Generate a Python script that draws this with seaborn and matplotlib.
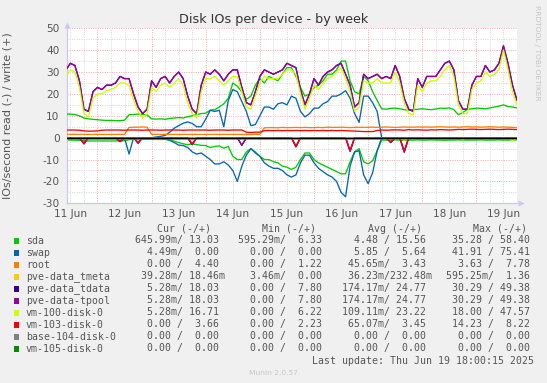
import numpy as np
import pandas as pd
import matplotlib
matplotlib.use("Agg")
import matplotlib.pyplot as plt
from matplotlib.patches import Rectangle
import seaborn as sns

sns.set_theme(style="white")
plt.rcParams['font.family'] = ['DejaVu Sans']

# ---------------- data (hours since 11 Jun 00:00, 2-hour samples) ----------------
hours = list(range(10, 211, 2))

tpool_w = [31, 34, 33, 26, 13, 12, 21,
           23, 22, 24, 24, 25, 28, 27, 27, 20, 14, 11, 13,
           26, 23, 27, 28, 25, 28, 30, 27, 19, 13, 11, 24,
           30, 29, 31, 29, 26, 29, 31, 31, 23, 16, 15, 21,
           28, 31, 30, 29, 30, 31, 34, 33, 32, 22, 15, 20,
           27, 24, 28, 30, 31, 33, 34, 29, 24, 14, 16, 29,
           27, 28, 29, 27, 28, 27, 33, 28, 18, 13, 12, 27,
           23, 28, 28, 28, 31, 34, 35, 31, 17, 13, 13, 24,
           28, 28, 33, 30, 31, 34, 42, 34, 24, 17]
tdata_w = tpool_w
vm100_w = [28, 31, 30, 23, 11, 9.5, 18,
           20, 20, 21.5, 22, 23, 25, 25, 24, 17, 12, 9, 11,
           23, 21, 24, 25, 23, 25, 27, 24, 16, 11, 9, 21,
           27, 27, 28, 26, 24, 26, 28, 28, 21, 14, 13, 19,
           25, 28, 27, 27, 27, 29, 31, 31, 29, 20, 13, 18,
           24, 22, 25, 27, 28, 30, 32, 27, 21, 12, 14, 26,
           25, 25, 27, 25, 25, 25, 30, 25, 16, 11, 10.5, 24,
           21, 25, 26, 26, 28, 31, 33, 28, 15, 11, 11, 22,
           25, 26, 30, 28, 29, 31, 40, 31, 21, 15]
sda_w = [10.8, 10.8, 10.6, 10.0, 9.0, 8.6, 8.4,
         8.2, 8.0, 7.9, 7.9, 7.8, 7.8, 8.0, 10.5, 10.6, 10.8, 10.6, 10.4,
         8.6, 8.5, 8.6, 8.4, 8.8, 9.0, 9.2, 9.0, 9.6, 10.0, 10.6, 11.0,
         11.2, 12.6, 12.8, 14.0, 15.5, 18.0, 25.0, 23.5, 21.0, 17.5, 19.0, 24.0,
         27, 25, 28, 27, 26, 29, 32, 32, 28, 23, 19, 20,
         23, 24, 26, 29, 29, 31, 35, 35, 26, 21, 20, 28,
         26, 21, 17, 13.2, 13.0, 13.4, 13.5, 13.2, 12.8, 12.6, 12.8, 13.0,
         13.2, 13.0, 12.8, 13.1, 13.5, 13.4, 13.6, 12.8, 10.5, 11.5, 13.0, 13.2,
         13.5, 13.4, 13.2, 13.6, 14.0, 14.4, 15.0, 14.2, 14.0, 13.6]
sda_r = [-1.1, -1.1, -1.1, -1.2, -1.3, -1.5, -1.5,
         -1.5, -1.5, -1.5, -1.5, -1.5, -1.5, -1.4, -0.9, -0.8, -0.8, -0.8, -0.8,
         -0.8, -0.8, -0.8, -0.8, -1.0, -1.6, -2.2, -2.8, -3.2, -2.8, -3.2, -3.5,
         -3.6, -4.5, -4.0, -3.8, -4.8, -4.0, -8.5, -10.0, -10.0, -6.5, -5.0, -6.5,
         -8.5, -10.0, -10.0, -11.0, -11.5, -13.0, -13.5, -14.5, -13.5, -10.0, -7.0, -7.0,
         -10.0, -11.5, -12.5, -13.5, -14.5, -15.5, -16.5, -16.5, -11.0, -6.5, -5.0, -11.0,
         -12.0, -10.5, -6.0, -1.1, -1.1, -1.1, -1.0, -1.1, -1.2, -1.1, -1.1, -1.0,
         -1.1, -1.1, -1.0, -1.1, -1.1, -1.2, -1.1, -1.1, -1.0, -1.1, -1.1, -1.1,
         -1.1, -1.0, -1.1, -1.1, -1.1, -1.0, -1.1, -1.1, -1.1, -1.0]
swap_w = [0, 0, 0, 0, 0, 0, 0,
          0, 0, 0, 0, 0, 0, 0, 0, 0, 0, 0, 0,
          0, 0.3, 0.6, 1.0, 2.5, 4.3, 5.5, 6.6, 7.2, 6.5, 5.0, 5.0,
          8.5, 12.5, 12.0, 12.5, 5.0, 17.0, 22.0, 21.0, 16.5, 12.0, 5.5, 6.0,
          10, 14, 14, 13, 15.5, 16, 15, 19, 18, 12, 9.5, 11,
          13.5, 13.5, 15.5, 16.5, 19, 19, 20, 21.5, 18, 11, 7, 19,
          19, 16, 12, 0, 0, 0, 0, 0, 0, 0, 0, 0,
          0, 0, 0, 0, 0, 0, 0, 0, 0, 0, 0, 0,
          0, 0, 0, 0, 0, 0, 0, 0, 0, 0]
swap_r = [0, 0, 0, 0, 0, 0, 0,
          0, 0, 0, 0, 0, 0, 0, -7.5, 0, 0, 0, 0,
          0, 0, -0.3, -0.6, -1.2, -2.2, -3.4, -3.6, -4.5, -6.5, -7.5, -7.0,
          -8.5, -10, -12, -12, -11, -12.5, -15, -20, -13, -8, -5, -7,
          -8.5, -11.5, -13, -14, -14, -15, -17, -18, -17, -11.5, -8, -8,
          -11.5, -14, -15.5, -17, -18, -20, -25, -27, -13, -6.5, -6, -17,
          -21, -16, -6, 0, 0, 0, 0, 0, 0, 0, 0, 0,
          0, 0, 0, 0, 0, 0, 0, 0, 0, 0, 0, 0,
          0, 0, 0, 0, 0, 0, 0, 0, 0, 0]
root_w = [1.5, 1.5, 1.5, 1.5, 1.5, 1.5, 1.5,
          1.5, 1.5, 1.5, 1.5, 1.5, 1.5, 1.5, 4.7, 4.8, 4.8, 4.9, 4.8,
          1.5, 1.5, 1.5, 1.5, 1.5, 1.5, 1.5, 1.5, 1.5, 1.5, 1.5, 1.5,
          1.5, 1.5, 1.5, 1.5, 1.5, 1.5, 1.5, 1.5, 1.5, 1.5, 1.5, 1.5,
          1.5, 4.5, 4.6, 4.6, 4.5, 4.7, 4.6, 4.6, 4.7, 4.6, 4.7, 4.6,
          4.6, 4.7, 4.6, 4.8, 4.7, 4.7, 4.8, 4.7, 4.6, 4.7, 4.8, 4.7,
          4.7, 4.8, 4.7, 4.8, 4.9, 4.8, 4.7, 4.8, 4.9, 4.8, 4.8, 4.9,
          4.8, 4.9, 4.8, 4.9, 5.0, 4.9, 4.8, 4.9, 4.8, 4.9, 5.0, 4.9,
          4.9, 4.8, 4.9, 5.0, 4.9, 4.8, 4.9, 4.8, 4.7, 4.6]
vm103_w = [3.5, 3.5, 3.5, 3.4, 3.1, 3.0, 3.0,
           3.1, 3.4, 3.5, 3.5, 3.5, 3.5, 3.4, 3.5, 3.5, 3.5, 3.4, 3.5,
           3.5, 3.5, 3.4, 3.5, 3.5, 3.5, 3.5, 3.4, 3.5, 3.5, 3.5, 3.5,
           3.5, 3.4, 3.5, 3.5, 3.5, 3.4, 3.5, 3.5, 3.5, 2.5, 2.4, 2.5,
           2.5, 3.2, 3.3, 3.2, 3.3, 3.2, 3.3, 3.2, 3.3, 3.2, 3.3, 3.2,
           3.3, 3.2, 3.3, 3.2, 3.3, 3.2, 3.3, 3.2, 3.1, 3.0, 2.9, 2.8,
           2.8, 2.8, 3.3, 3.5, 3.4, 3.5, 3.6, 3.5, 3.4, 3.7, 3.5, 3.6,
           3.5, 3.4, 3.6, 3.5, 3.7, 3.6, 3.5, 3.6, 3.8, 3.7, 3.8, 3.9,
           3.8, 3.7, 3.8, 3.9, 3.8, 3.7, 3.8, 3.9, 3.8, 3.7]
tpool_r = [0, 0, 0, 0, -2.8, 0, 0,
           0, 0, 0, 0, 0, -1.8, 0, 0, 0, -2.5, 0, 0,
           0, 0, 0, 0, 0, 0, 0, 0, 0, -3.2, 0, 0,
           0, 0, 0, 0, 0, 0, 0, 0, -3.5, 0, 0, 0,
           0, 0, 0, 0, 0, 0, 0, 0, -4.2, 0, 0, 0,
           0, 0, 0, 0, 0, 0, 0, 0, -6.2, 0, 0, 0,
           0, 0, 0, 0, 0, -2.2, 0, 0, -6.6, 0, 0, 0,
           0, 0, 0, 0, 0, 0, 0, 0, 0, 0, 0, 0,
           0, 0, 0, 0, 0, 0, 0, 0, 0, 0]
tdata_r = tpool_r
vm103_r = [0, 0, 0, 0, -2.4, 0, 0,
           0, 0, 0, 0, 0, -1.5, 0, 0, 0, -2.2, 0, 0,
           0, 0, 0, 0, 0, 0, 0, 0, 0, -2.8, 0, 0,
           0, 0, 0, 0, 0, 0, 0, 0, 0, 0, 0, 0,
           0, 0, 0, 0, 0, 0, 0, 0, -3.8, 0, 0, 0,
           0, 0, 0, 0, 0, 0, 0, 0, -5.8, 0, 0, 0,
           0, 0, 0, 0, 0, -2.0, 0, 0, -6.0, 0, 0, 0,
           0, 0, 0, 0, 0, 0, 0, 0, 0, 0, 0, 0,
           0, 0, 0, 0, 0, 0, 0, 0, 0, 0]
vm100_r = [0, 0, 0, 0, 0, -0.8, 0,
           0, 0, 0, 0, 0, 0, 0, 0, 0, 0, 0, 0,
           0, 0, 0, 0, 0, 0, 0, 0, 0, -0.6, 0, 0,
           0, 0, 0, 0, 0, 0, 0, 0, 0, 0, 0, 0,
           0, 0, 0, 0, 0, 0, 0, 0, 0, 0, 0, 0,
           0, 0, 0, 0, 0, 0, 0, 0, 0, 0, 0, 0,
           0, 0, 0, 0, 0, 0, 0, 0, -1.2, 0, 0, 0,
           0, 0, 0, 0, 0, 0, 0, 0, 0, -1.0, 0, 0,
           0, 0, 0, 0, 0, 0, 0, 0, -1.5, 0]
zeros = [0.0] * len(hours)

series_names = ["sda", "swap", "root", "pve-data_tmeta", "pve-data_tdata",
                "pve-data-tpool", "vm-100-disk-0", "vm-103-disk-0",
                "base-104-disk-0", "vm-105-disk-0"]
series_colors = ["#00CC00", "#0066B3", "#FF8000", "#FFCC00", "#330099",
                 "#990099", "#CCFF00", "#FF0000", "#808080", "#008F00"]
write_vals = [sda_w, swap_w, root_w, zeros, tdata_w, tpool_w, vm100_w, vm103_w, zeros, zeros]
read_vals = [sda_r, swap_r, zeros, zeros, tdata_r, tpool_r, vm100_r, vm103_r, zeros, zeros]

cur_vals = [("645.99m", "13.03"), ("4.49m", "0.00"), ("0.00", "4.40"), ("39.28m", "18.46m"),
            ("5.28m", "18.03"), ("5.28m", "18.03"), ("5.28m", "16.71"), ("0.00", "3.66"),
            ("0.00", "0.00"), ("0.00", "0.00")]
min_vals = [("595.29m", "6.33"), ("0.00", "0.00"), ("0.00", "1.22"), ("3.46m", "0.00"),
            ("0.00", "7.80"), ("0.00", "7.80"), ("0.00", "6.22"), ("0.00", "2.23"),
            ("0.00", "0.00"), ("0.00", "0.00")]
avg_vals = [("4.48", "15.56"), ("5.85", "5.64"), ("45.65m", "3.43"), ("36.23m", "232.48m"),
            ("174.17m", "24.77"), ("174.17m", "24.77"), ("109.11m", "23.22"), ("65.07m", "3.45"),
            ("0.00", "0.00"), ("0.00", "0.00")]
max_vals = [("35.28", "58.40"), ("41.91", "75.41"), ("3.63", "7.78"), ("595.25m", "1.36"),
            ("30.29", "49.38"), ("30.29", "49.38"), ("18.00", "47.57"), ("14.23", "8.22"),
            ("0.00", "0.00"), ("0.00", "0.00")]

day_labels = ["11 Jun", "12 Jun", "13 Jun", "14 Jun", "15 Jun", "16 Jun", "17 Jun", "18 Jun", "19 Jun"]

# ---------------- figure ----------------
W, H = 547, 383
fig = plt.figure(figsize=(W / 100, H / 100), dpi=100, facecolor="#f0f0f0")
L, R, T, B = 66.5, 517, 28.3, 203.3
ax = fig.add_axes([L / W, 1 - B / H, (R - L) / W, (B - T) / H])
ax.set_facecolor("white")

x0 = 10.0 + (L - 65.4) / 2.2583
ax.set_xlim(10.27, 210.0)
ax.set_ylim(-30, 50)

minor_c = "#d4d4d4"
major_c = "#f2a8a8"
dash = (0, (1.0, 1.4))
for yv in range(-30, 51, 5):
    if yv % 10 == 0:
        ax.axhline(yv, color=major_c, lw=0.7, ls=dash, zorder=0)
    else:
        ax.axhline(yv, color=minor_c, lw=0.7, ls=dash, zorder=0)
for hv in range(12, 211, 6):
    c = major_c if hv % 24 == 0 else minor_c
    ax.axvline(hv, color=c, lw=0.7, ls=dash, zorder=0)

for i, name in enumerate(series_names):
    df = pd.DataFrame({"hour": hours, "read": read_vals[i], "write": write_vals[i]})
    sns.lineplot(data=df, x="hour", y="read", color=series_colors[i], lw=0.95,
                 ax=ax, zorder=2 + i * 0.1, legend=False)
for i, name in enumerate(series_names):
    df = pd.DataFrame({"hour": hours, "read": read_vals[i], "write": write_vals[i]})
    sns.lineplot(data=df, x="hour", y="write", color=series_colors[i], lw=0.95,
                 ax=ax, zorder=3 + i * 0.1, legend=False)

ax.axhline(0, color="black", lw=0.9, zorder=5)

ax.set_xlabel("")
ax.set_ylabel("")
ax.set_yticks(range(-30, 51, 10))
ax.set_yticklabels([str(v) for v in range(-30, 51, 10)])
ax.set_xticks([24 * k + 12 for k in range(len(day_labels))])
ax.set_xticklabels(day_labels)
ax.tick_params(axis="both", length=0, labelsize=7.6, labelcolor="#555555")
ax.tick_params(axis="y", pad=5)
ax.tick_params(axis="x", pad=4)
for s in ["top", "right"]:
    ax.spines[s].set_visible(False)
for s in ["left", "bottom"]:
    ax.spines[s].set_color("#c8c8f0")
    ax.spines[s].set_linewidth(0.9)

# axis arrows
fig.lines.append(plt.Line2D([L / W], [1 - 24.5 / H], marker="^", ms=4.5, color="#c8c8f0",
                            transform=fig.transFigure, mec="none"))
fig.lines.append(plt.Line2D([520.5 / W], [1 - B / H], marker=">", ms=4.5, color="#c8c8f0",
                            transform=fig.transFigure, mec="none"))

def fx(px):
    return px / W

def fy(py):
    return 1 - py / H

fig.text(fx(273.5), fy(20), "Disk IOs per device - by week", ha="center", va="center",
         fontsize=9.2, color="#333333")
fig.text(fx(8), fy(115.5), "IOs/second read (-) / write (+)", rotation=90, ha="center",
         va="center", fontsize=8.0, color="#555555")
fig.text(fx(537), fy(5), "RRDTOOL / TOBI OETIKER", rotation=270, ha="center", va="top",
         fontsize=5.4, color="#c4c4c4")

mono = dict(family="DejaVu Sans Mono", fontsize=7.1, color="#555555", va="center")

def fmt(s):
    if s.endswith("m"):
        return f"{s[:-1]:>6}m"
    return f"{s:>6} "

def pair(p):
    return fmt(p[0]) + "/" + fmt(p[1])

header_y = 228.5
for hx, htxt in zip([157, 262, 368, 473], ["Cur (-/+)", "Min (-/+)", "Avg (-/+)", "Max (-/+)"]):
    fig.text(fx(hx), fy(header_y), htxt, ha="left", **mono)

col_x = [135, 238.5, 341.5, 445.5]
for i, name in enumerate(series_names):
    yy = 240.5 + 12 * i
    fig.patches.append(Rectangle((fx(13.8), fy(yy + 3)), 5.6 / W, 5.6 / H,
                                 transform=fig.transFigure, facecolor=series_colors[i],
                                 edgecolor="none"))
    fig.text(fx(26), fy(yy), name, ha="left", **mono)
    for cx, vals in zip(col_x, [cur_vals, min_vals, avg_vals, max_vals]):
        fig.text(fx(cx), fy(yy), pair(vals[i]), ha="left", **mono)

fig.text(fx(312), fy(360.5), "Last update: Thu Jun 19 18:00:15 2025", ha="left", **mono)
fig.text(fx(273), fy(373), "Munin 2.0.57", ha="center", va="center", fontsize=5.4, color="#c8c8c8")

fig.savefig("out.png", dpi=100, facecolor=fig.get_facecolor())
